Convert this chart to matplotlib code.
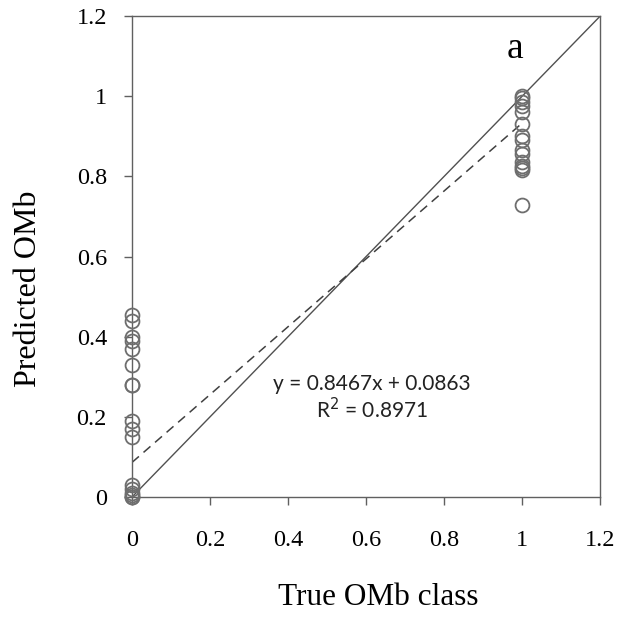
import numpy as np
import matplotlib.pyplot as plt

# observed class vs model prediction
true_neg = [0, 0, 0, 0, 0, 0, 0, 0, 0, 0, 0, 0, 0, 0, 0, 0, 0]
pred_neg = [0.455, 0.44, 0.40, 0.39, 0.37, 0.33, 0.28, 0.28, 0.19, 0.17, 0.15,
            0.03, 0.02, 0.01, 0.005, 0.0, 0.0]
true_pos = [1, 1, 1, 1, 1, 1, 1, 1, 1, 1, 1, 1, 1, 1, 1]
pred_pos = [1.0, 0.995, 0.985, 0.975, 0.96, 0.93, 0.90, 0.89, 0.865, 0.855,
            0.835, 0.825, 0.82, 0.815, 0.73]

slope = 0.8467
intercept = 0.0863
r2 = 0.8971

ticks = [0, 0.2, 0.4, 0.6, 0.8, 1, 1.2]
tick_labels = ["0", "0.2", "0.4", "0.6", "0.8", "1", "1.2"]

fig = plt.figure(figsize=(6.37, 6.24), dpi=100)
ax = fig.add_axes([0.2072, 0.2035, 0.7348, 0.7705])

x = np.array(true_neg + true_pos)
y = np.array(pred_neg + pred_pos)
ax.plot(x, y, linestyle="none", marker="o", markersize=10,
        markerfacecolor="none", markeredgecolor="#6e6e6e", markeredgewidth=1.3,
        clip_on=False, zorder=3)

# 1:1 line and fitted trend
ax.plot([0, 1.2], [0, 1.2], color="#505050", lw=1.0, zorder=2)
xf = np.array([0, 1])
ax.plot(xf, slope * xf + intercept, color="#404040", lw=1.1,
        dashes=(6, 4), zorder=2)

ax.text(0.615, 0.282, "y = %.4fx + %.4f" % (slope, intercept), ha="center",
        va="center", fontsize=15, family="Lato", color="#222222")
ax.text(0.615, 0.217, "R$^2$ = %.4f" % r2, ha="center", va="center",
        fontsize=15, family="Lato", color="#222222")
ax.text(0.982, 1.12, "a", ha="center", va="center", fontsize=27,
        family="Liberation Serif")

ax.set_xlim(0, 1.2)
ax.set_ylim(0, 1.2)
ax.set_xticks(ticks)
ax.set_xticklabels(tick_labels)
ax.set_yticks(ticks)
ax.set_yticklabels(tick_labels)
for lab in ax.get_xticklabels() + ax.get_yticklabels():
    lab.set_family("Liberation Serif")
    lab.set_fontsize(17.5)
ax.tick_params(direction="out", length=6, width=1, color="#606060")
ax.tick_params(axis="x", pad=18)
ax.tick_params(axis="y", pad=12)
for sp in ax.spines.values():
    sp.set_color("#606060")
    sp.set_linewidth(1)

ax.set_xlabel("True OMb class", family="Liberation Serif", fontsize=22.5,
              va="center")
ax.set_ylabel("Predicted OMb", family="Liberation Serif", fontsize=23,
              va="center")
ax.xaxis.set_label_coords(0.526, -0.21)
ax.yaxis.set_label_coords(-0.222, 0.434)

fig.savefig("out.png", dpi=100)
